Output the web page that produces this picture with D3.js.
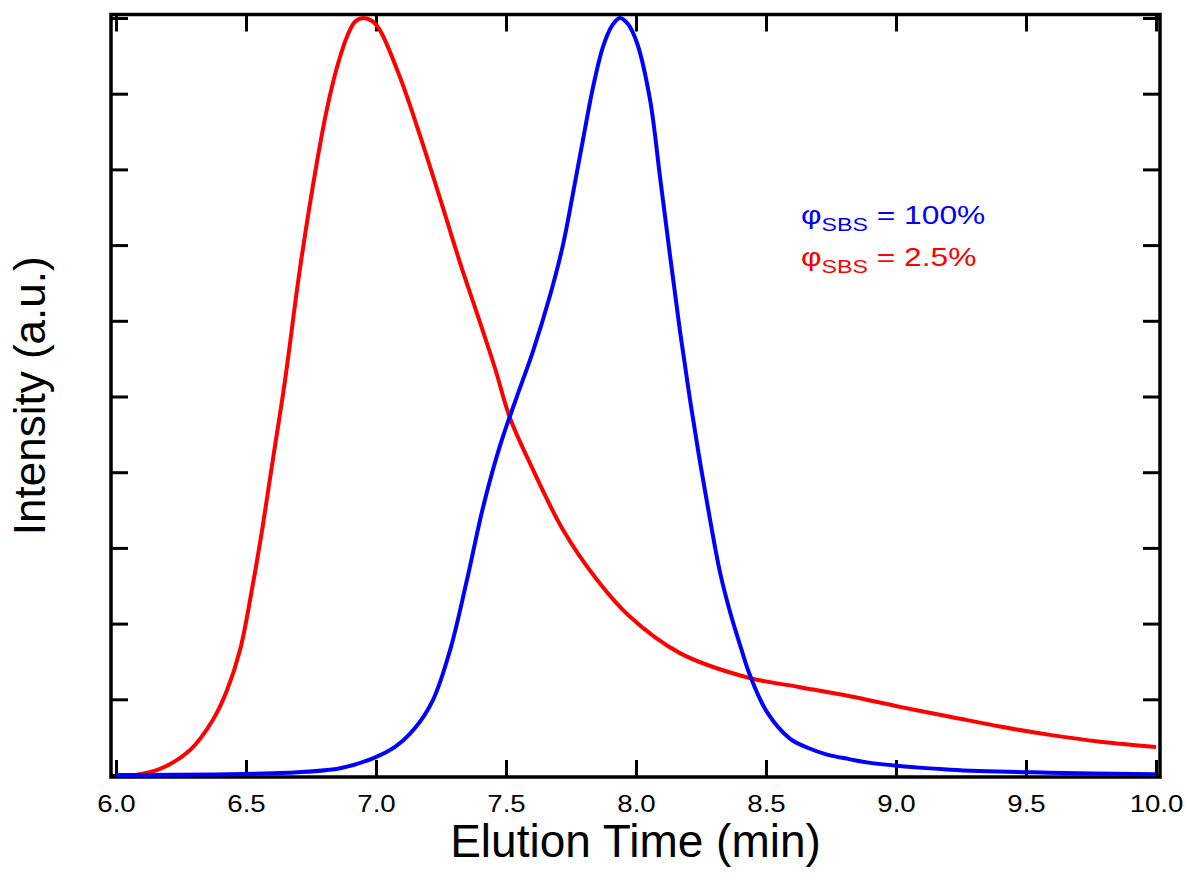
<!DOCTYPE html>
<html>
<head>
<meta charset="utf-8">
<script src="https://cdn.jsdelivr.net/npm/d3@7"></script>
<style>
body{margin:0;background:#fff;}
svg{display:block;font-family:Arial,"Liberation Sans",sans-serif;}
</style>
</head>
<body>
<svg id="chart" width="1187" height="890"></svg>
<script>
// elution time (min) and normalised intensity
const blueTime=[6.0,6.66,6.862,6.988,7.073,7.15,7.219,7.285,7.35,7.412,7.477,7.542,7.604,7.669,7.719,7.758,7.796,7.835,7.873,7.908,7.938,7.969,8.004,8.054,8.092,8.131,8.169,8.208,8.246,8.285,8.323,8.362,8.40,8.438,8.504,8.592,8.66,8.735,8.82,8.90,9.21,9.59,10.0];
const blueInt=[0.0,0.003,0.009,0.022,0.037,0.062,0.099,0.165,0.258,0.354,0.435,0.500,0.560,0.633,0.700,0.769,0.839,0.909,0.962,0.990,1.0,0.992,0.967,0.892,0.791,0.686,0.587,0.495,0.414,0.337,0.268,0.215,0.172,0.132,0.083,0.048,0.036,0.027,0.021,0.016,0.007,0.003,0.001];

const redTime=[6.073,6.169,6.285,6.373,6.427,6.477,6.527,6.565,6.604,6.65,6.708,6.773,6.812,6.85,6.888,6.919,6.95,6.985,7.015,7.092,7.169,7.246,7.323,7.40,7.458,7.515,7.592,7.719,7.85,7.977,8.169,8.427,8.631,8.823,9.015,9.208,9.40,9.592,9.785,10.0];
const redInt=[0.0,0.008,0.033,0.073,0.112,0.165,0.253,0.330,0.418,0.521,0.670,0.810,0.881,0.935,0.975,0.995,1.0,0.996,0.984,0.922,0.845,0.762,0.677,0.598,0.537,0.472,0.412,0.324,0.258,0.209,0.161,0.129,0.116,0.104,0.090,0.077,0.064,0.053,0.044,0.037];

const xTicks=[6.0,6.5,7.0,7.5,8.0,8.5,9.0,9.5,10.0];
const yTicks=[0,0.1,0.2,0.3,0.4,0.5,0.6,0.7,0.8,0.9,1.0];

const svg=d3.select("#chart");
const frame={left:111,right:1160,top:14.5,bottom:777};
const tickLen=17;

const x=d3.scaleLinear().domain([6,10]).range([116,1156]);
const y=d3.scaleLinear().domain([0,1]).range([775,18]);

// ticks on all four sides, pointing inward
svg.append("g").attr("class","xb").attr("transform",`translate(0,${frame.bottom})`)
    .call(d3.axisBottom(x).tickValues(xTicks).tickSize(-tickLen).tickFormat(d3.format(".1f")).tickPadding(18))
    .call(g=>g.select(".domain").remove());
svg.append("g").attr("transform",`translate(0,${frame.top})`)
    .call(d3.axisTop(x).tickValues(xTicks).tickSize(-tickLen).tickFormat(""))
    .call(g=>g.select(".domain").remove());
svg.append("g").attr("transform",`translate(${frame.left},0)`)
    .call(d3.axisLeft(y).tickValues(yTicks).tickSize(-tickLen).tickFormat(""))
    .call(g=>g.select(".domain").remove());
svg.append("g").attr("transform",`translate(${frame.right},0)`)
    .call(d3.axisRight(y).tickValues(yTicks).tickSize(-tickLen).tickFormat(""))
    .call(g=>g.select(".domain").remove());

svg.selectAll(".tick line").attr("stroke","#000").attr("stroke-width",3);
svg.selectAll(".xb .tick text").attr("font-size",24).attr("fill","#000")
    .attr("font-family","Arial, 'Liberation Sans', sans-serif")
    .attr("transform","scale(1.15,1)");

svg.append("rect")
    .attr("x",frame.left).attr("y",frame.top)
    .attr("width",frame.right-frame.left).attr("height",frame.bottom-frame.top)
    .attr("fill","none").attr("stroke","#000").attr("stroke-width",3.5);

const line=d3.line().x(d=>x(d[0])).y(d=>y(d[1])).curve(d3.curveCatmullRom.alpha(0.5));

svg.append("path")
    .datum(redTime.map((t,i)=>[t,redInt[i]]))
    .attr("d",line).attr("fill","none").attr("stroke","#ff0000").attr("stroke-width",4);
svg.append("path")
    .datum(blueTime.map((t,i)=>[t,blueInt[i]]))
    .attr("d",line).attr("fill","none").attr("stroke","#0000ff").attr("stroke-width",4);

// axis titles
svg.append("text")
    .attr("x",(frame.left+frame.right)/2).attr("y",857)
    .attr("text-anchor","middle").attr("font-size",46)
    .text("Elution Time (min)");
svg.append("text")
    .attr("transform",`translate(45,${(frame.top+frame.bottom)/2}) rotate(-90)`)
    .attr("text-anchor","middle").attr("font-size",44)
    .text("Intensity (a.u.)");

// legend
const legend=[{label:"100%",color:"#0000ff",y:224},{label:"2.5%",color:"#ff0000",y:266}];
legend.forEach(l=>{
    const t=svg.append("text").attr("transform",`translate(801,${l.y}) scale(1.22,1)`)
        .attr("font-size",26).attr("fill",l.color);
    t.append("tspan").text("φ");
    t.append("tspan").attr("font-size",19).attr("dy",7).text("SBS");
    t.append("tspan").attr("dy",-7).text(" = "+l.label);
});
</script>
</body>
</html>
